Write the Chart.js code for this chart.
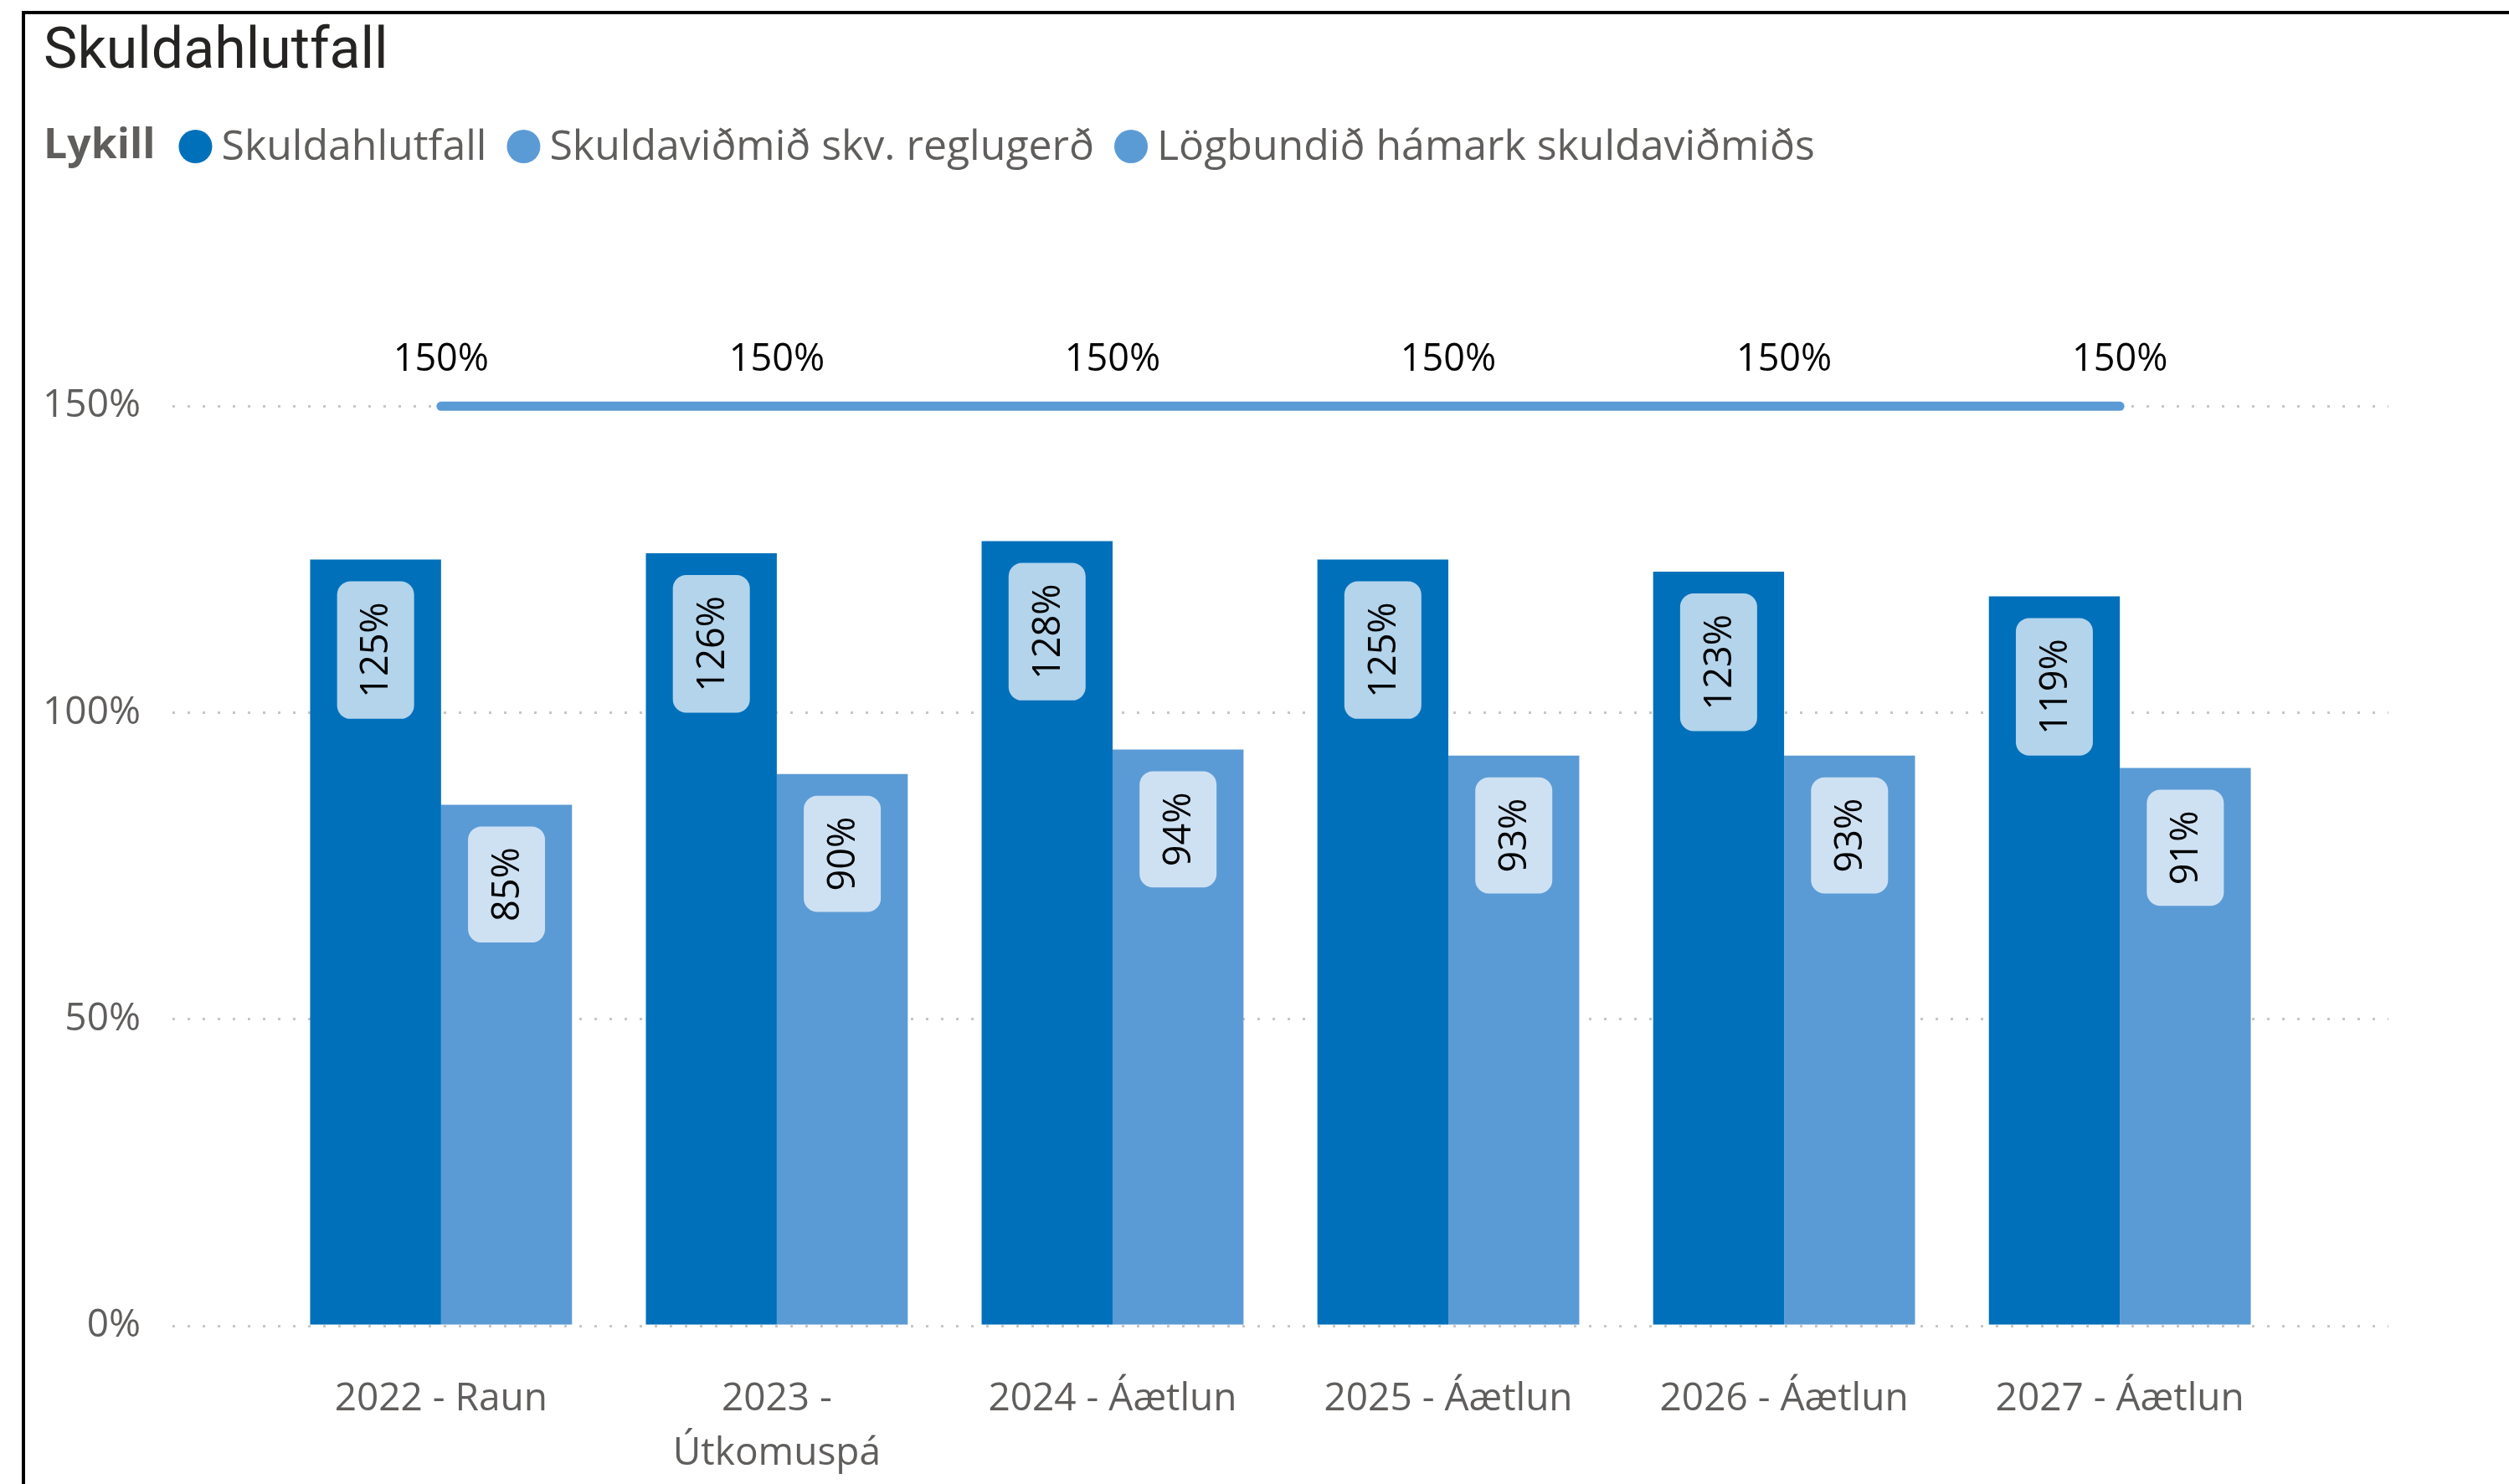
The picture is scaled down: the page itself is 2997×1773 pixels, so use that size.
<!DOCTYPE html>
<html lang="is">
<head>
<meta charset="UTF-8">
<title>Skuldahlutfall</title>
<script src="https://cdn.jsdelivr.net/npm/chart.js"></script>
<style>
    html, body {
        margin: 0;
        padding: 0;
        background: #fff;
        overflow: hidden;
    }
    #wrap {
        position: relative;
        width: 2997px;
        height: 1773px;
    }
    /* visual frame, only top and left edges are inside the shot */
    #wrap::before {
        content: '';
        position: absolute;
        left: 26px;
        top: 13px;
        right: -20px;
        bottom: -20px;
        border-top: 4px solid #000;
        border-left: 4px solid #000;
        pointer-events: none;
    }
    canvas {
        display: block;
    }
</style>
</head>
<body>
<div id="wrap">
    <canvas id="skuldaChart" width="2997" height="1773"></canvas>
</div>

<script>
    var categories = ['2022 - Raun', '2023 - Útkomuspá', '2024 - Áætlun', '2025 - Áætlun', '2026 - Áætlun', '2027 - Áætlun'];
    var skuldahlutfall = [125, 126, 128, 125, 123, 119];
    var skuldavidmid = [85, 90, 94, 93, 93, 91];
    var hamark = [150, 150, 150, 150, 150, 150];
    var yTicks = [0, 50, 100, 150];
    var seriesNames = ['Skuldahlutfall', 'Skuldaviðmið skv. reglugerð', 'Lögbundið hámark skuldaviðmiðs'];

    var DARK = '#0070BB';
    var LIGHT = '#5B9BD5';
    var GREY_TEXT = '#605E5C';
    var FONT = '"Segoe UI", "Open Sans", sans-serif';

    function points(arr) {
        return arr.map(function(v, i) { return { x: i, y: v }; });
    }

    // long category names wrap after the dash, like the original
    function wrapLabel(lbl) {
        if (lbl.length > 14) {
            var i = lbl.indexOf(' - ');
            return [lbl.slice(0, i + 2), lbl.slice(i + 3)];
        }
        return lbl;
    }

    var valueLabels = {
        id: 'valueLabels',
        afterDatasetsDraw: function(chart) {
            var ctx = chart.ctx;
            ctx.save();
            ctx.font = '45px ' + FONT;
            ctx.textAlign = 'center';
            ctx.textBaseline = 'middle';
            chart.data.datasets.forEach(function(ds, di) {
                var meta = chart.getDatasetMeta(di);
                meta.data.forEach(function(el, i) {
                    var txt = Math.round(ds.data[i].y) + '%';
                    var w = ctx.measureText(txt).width;
                    if (ds.type === 'line') {
                        ctx.fillStyle = '#000';
                        ctx.fillText(txt, el.x, el.y - 55);
                        return;
                    }
                    var bw = 92, bh = w + 50;
                    var top = el.y + 26;
                    ctx.fillStyle = 'rgba(255,255,255,0.7)';
                    ctx.beginPath();
                    ctx.roundRect(el.x - bw / 2, top, bw, bh, 16);
                    ctx.fill();
                    ctx.save();
                    ctx.translate(el.x, top + bh / 2);
                    ctx.rotate(-Math.PI / 2);
                    ctx.fillStyle = '#000';
                    ctx.fillText(txt, 0, 2);
                    ctx.restore();
                });
            });
            ctx.restore();
        }
    };

    // "Lykill" legend row, drawn inline like Power BI does
    var lykill = {
        id: 'lykill',
        afterDraw: function(chart) {
            var ctx = chart.ctx;
            var y = 175;
            ctx.save();
            ctx.textAlign = 'left';
            ctx.textBaseline = 'middle';
            ctx.fillStyle = GREY_TEXT;
            ctx.font = 'bold 50px "Open Sans", sans-serif';
            ctx.fillText('Lykill', 52, y);
            var x = 52 + ctx.measureText('Lykill').width + 48;
            ctx.font = '50px "Open Sans", sans-serif';
            chart.data.datasets.forEach(function(ds) {
                ctx.fillStyle = ds.type === 'line' ? ds.borderColor : ds.backgroundColor;
                ctx.beginPath();
                ctx.arc(x, y, 20, 0, Math.PI * 2);
                ctx.fill();
                ctx.fillStyle = GREY_TEXT;
                ctx.fillText(ds.label, x + 31, y + 2);
                x += 31 + ctx.measureText(ds.label).width + 44;
            });
            ctx.restore();
        }
    };

    var ctx = document.getElementById('skuldaChart').getContext('2d');
    var skuldaChart = new Chart(ctx, {
        type: 'bar',
        data: {
            datasets: [
                {
                    type: 'bar',
                    label: seriesNames[0],
                    data: points(skuldahlutfall),
                    backgroundColor: DARK,
                    categoryPercentage: 0.78,
                    barPercentage: 1,
                    order: 2
                },
                {
                    type: 'bar',
                    label: seriesNames[1],
                    data: points(skuldavidmid),
                    backgroundColor: LIGHT,
                    categoryPercentage: 0.78,
                    barPercentage: 1,
                    order: 2
                },
                {
                    type: 'line',
                    label: seriesNames[2],
                    data: points(hamark),
                    borderColor: LIGHT,
                    backgroundColor: LIGHT,
                    borderWidth: 11,
                    borderCapStyle: 'round',
                    pointRadius: 0,
                    pointHoverRadius: 0,
                    order: 0
                }
            ]
        },
        options: {
            responsive: false,
            animation: false,
            layout: {
                padding: { left: 52, right: 144, top: 0, bottom: 0 }
            },
            plugins: {
                legend: { display: false },
                tooltip: { enabled: false },
                title: {
                    display: true,
                    text: 'Skuldahlutfall',
                    align: 'start',
                    color: '#252423',
                    font: { family: 'Roboto', size: 68, weight: 'normal', lineHeight: 1.2 },
                    padding: { top: 23, bottom: 161 }
                }
            },
            scales: {
                x: {
                    type: 'linear',
                    offset: false,
                    min: -0.8,
                    max: 5.8,
                    afterBuildTicks: function(s) {
                        s.ticks = categories.map(function(c, i) { return { value: i }; });
                    },
                    afterFit: function(s) { s.height = 189; },
                    grid: { display: false },
                    border: { display: false },
                    ticks: {
                        padding: 47,
                        color: GREY_TEXT,
                        maxRotation: 0,
                        autoSkip: false,
                        font: { family: 'Open Sans', size: 46, lineHeight: 1.42 },
                        callback: function(v) { return wrapLabel(categories[v]); }
                    }
                },
                y: {
                    min: 0,
                    max: 180,
                    afterBuildTicks: function(s) {
                        s.ticks = yTicks.map(function(v) { return { value: v }; });
                    },
                    afterFit: function(s) { s.width = 154; },
                    grid: { color: '#C8C6C4', lineWidth: 3, drawTicks: false },
                    border: { display: false, dash: [3, 15] },
                    ticks: {
                        padding: 38,
                        color: GREY_TEXT,
                        font: { family: 'Open Sans', size: 46 },
                        callback: function(v) { return v + '%'; }
                    }
                }
            }
        },
        plugins: [valueLabels, lykill]
    });
</script>
</body>
</html>
